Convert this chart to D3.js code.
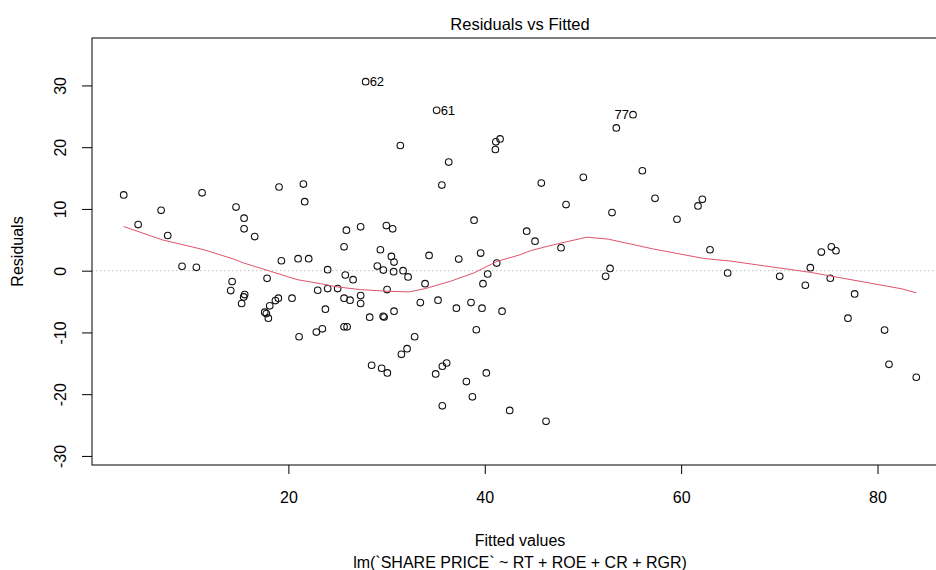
<!DOCTYPE html>
<html>
<head>
<meta charset="utf-8">
<script src="https://cdn.jsdelivr.net/npm/d3@7"></script>
<style>
  body { margin: 0; background: #fff; }
  svg { display: block; font-family: "Liberation Sans", Arial, sans-serif; }
</style>
</head>
<body>
<script>
// fitted values and residuals
let fitted = [3.23, 4.70, 7.04, 7.71, 11.21, 14.67, 15.49, 15.49, 16.57, 19.05, 21.53, 21.66,
    9.17, 10.63, 19.29, 20.99, 22.07, 14.27, 14.13, 17.83, 15.55, 15.45, 15.24, 18.98,
    18.68, 18.10, 17.59, 17.76, 17.96, 20.37, 22.99, 21.09, 22.85, 27.87, 35.10, 31.40,
    36.33, 35.63, 41.13, 41.56, 41.08, 25.91, 27.36, 29.98, 30.62, 38.91, 25.67, 29.37,
    30.49, 34.33, 37.35, 39.58, 44.27, 30.76, 24.00, 25.80, 26.59, 29.06, 29.67, 30.72,
    31.68, 32.19, 33.92, 40.30, 41.22, 39.82, 24.00, 25.02, 25.67, 26.28, 27.36, 27.36,
    30.05, 23.77, 23.46, 25.67, 25.98, 28.28, 29.65, 29.75, 30.76, 33.44, 35.24, 37.11,
    38.60, 39.72, 41.76, 39.14, 32.86, 32.09, 31.51, 28.48, 29.50, 30.08, 35.00, 35.68,
    36.12, 40.16, 38.13, 38.74, 35.68, 42.54, 55.10, 53.40, 56.05, 50.04, 45.76, 57.34,
    48.28, 52.96, 62.16, 61.72, 59.58, 45.12, 47.77, 62.94, 52.76, 52.31, 64.74, 74.28,
    75.30, 75.77, 73.16, 70.04, 75.19, 72.65, 77.67, 76.99, 80.72, 81.17, 83.95, 46.24];

let residuals = [12.26, 7.47, 9.78, 5.70, 12.60, 10.30, 8.50, 6.77, 5.53, 13.55, 14.03, 11.18,
    0.70, 0.54, 1.61, 1.94, 1.94, -1.77, -3.23, -1.24, -3.87, -4.25, -5.32, -4.46,
    -4.84, -5.70, -6.72, -6.94, -7.69, -4.46, -3.17, -10.70, -9.95, 30.60, 25.97, 20.27,
    17.58, 13.87, 20.86, 21.34, 19.62, 6.56, 7.10, 7.31, 6.77, 8.17, 3.87, 3.39,
    2.31, 2.47, 1.88, 2.85, 6.40, 1.40, 0.16, -0.70, -1.45, 0.75, 0.10, -0.16,
    0.00, -1.02, -2.10, -0.54, 1.23, -2.10, -2.90, -2.90, -4.46, -4.78, -4.03, -5.32,
    -3.06, -6.23, -9.41, -9.09, -9.09, -7.53, -7.40, -7.50, -6.56, -5.16, -4.78, -6.08,
    -5.16, -6.08, -6.56, -9.57, -10.70, -12.63, -13.55, -15.32, -15.80, -16.56, -16.72, -15.48,
    -14.95, -16.56, -17.96, -20.43, -21.88, -22.63, 25.27, 23.12, 16.18, 15.11, 14.19, 11.72,
    10.70, 9.41, 11.56, 10.48, 8.33, 4.78, 3.71, 3.39, 0.37, -0.91, -0.38, 3.01,
    3.87, 3.23, 0.48, -0.91, -1.23, -2.36, -3.77, -7.69, -9.62, -15.16, -17.26, -24.40];

// observation numbers shown next to the three largest residuals
let labelIds = ['62', '61', '77'];
let labelFitted = [27.87, 35.10, 55.10];
let labelResid = [30.60, 25.97, 25.27];

// red smoother
let smoothX = [3.23, 7.14, 11.4, 14.43, 15.45, 18.17, 20.89, 23.26, 24.96, 27.33, 30.05, 32.25,
    33.95, 36.5, 38.87, 41.25, 43.6, 44.64, 47.0, 50.4, 52.6, 57.2, 62.3, 65.0, 73.16, 82.5, 83.95];
let smoothY = [7.15, 5.0, 3.39, 1.88, 1.24, -0.1, -1.45, -2.1, -2.63, -3.06, -3.33, -3.44,
    -2.9, -1.72, -0.38, 1.5, 2.58, 3.23, 4.19, 5.43, 5.1, 3.5, 1.98, 1.56, -0.27, -2.95, -3.6];

let xTicks = [20, 40, 60, 80];
let yTicks = [-30, -20, -10, 0, 10, 20, 30];

let w = 936, h = 570;
let padL = 92, padR = 948, padT = 38, padB = 465;
let lineH = 21.5;

let svg = d3.select('body')
    .append('svg')
    .attr('width', w)
    .attr('height', h);

let x = d3.scaleLinear()
    .domain([0.0, 87.18])
    .range([padL, padR]);

let y = d3.scaleLinear()
    .domain([-31.47, 37.68])
    .range([padB, padT]);

// zero reference line
svg.append('line')
    .attr('x1', padL).attr('x2', padR)
    .attr('y1', y(0)).attr('y2', y(0))
    .attr('stroke', '#bebebe')
    .attr('stroke-dasharray', '1.5,2.5');

// points
svg.selectAll('circle.pt')
    .data(fitted)
    .enter()
    .append('circle')
    .attr('class', 'pt')
    .attr('cx', d => x(d))
    .attr('cy', (d, i) => y(residuals[i]))
    .attr('r', 3.3)
    .attr('fill', 'none')
    .attr('stroke', '#111')
    .attr('stroke-width', 1.1);

// smoother
let line = d3.line()
    .x(d => x(d[0]))
    .y(d => y(d[1]));

svg.append('path')
    .datum(smoothX.map((d, i) => [d, smoothY[i]]))
    .attr('d', line)
    .attr('fill', 'none')
    .attr('stroke', '#DF536B')
    .attr('stroke-width', 1);

// id labels, right of the point on the left half, left of it on the right half
let mid = (x.domain()[0] + x.domain()[1]) / 2;
svg.selectAll('text.id')
    .data(labelIds)
    .enter()
    .append('text')
    .attr('class', 'id')
    .text(d => d)
    .attr('x', (d, i) => labelFitted[i] < mid ? x(labelFitted[i]) + 4 : x(labelFitted[i]) - 4)
    .attr('y', (d, i) => y(labelResid[i]))
    .attr('dy', '0.36em')
    .style('text-anchor', (d, i) => labelFitted[i] < mid ? 'start' : 'end')
    .style('font-size', '13px')
    .attr('fill', '#000');

// box
svg.append('rect')
    .attr('x', padL).attr('y', padT)
    .attr('width', padR - padL).attr('height', padB - padT)
    .attr('fill', 'none')
    .attr('stroke', '#000')
    .attr('stroke-width', 1);

// axes (plain hyphen for negatives, as R prints them)
let xAxis = svg.append('g')
    .attr('transform', `translate(0,${padB})`)
    .call(d3.axisBottom(x).tickValues(xTicks).tickSize(9).tickSizeOuter(0).tickFormat(d => String(d)));
xAxis.select('.domain').remove();
xAxis.selectAll('text')
    .attr('y', lineH * 1.5)
    .attr('dy', '0.36em')
    .style('font-size', '16px')
    .style('font-family', '"Liberation Sans", Arial, sans-serif')
    .attr('fill', '#000');

let yAxis = svg.append('g')
    .attr('transform', `translate(${padL},0)`)
    .call(d3.axisLeft(y).tickValues(yTicks).tickSize(10).tickSizeOuter(0).tickFormat(d => String(d)));
yAxis.select('.domain').remove();
yAxis.selectAll('text')
    .attr('x', 0)
    .attr('transform', `translate(${-lineH * 1.5},0) rotate(-90)`)
    .attr('dy', '0.36em')
    .style('text-anchor', 'middle')
    .style('font-size', '16px')
    .style('font-family', '"Liberation Sans", Arial, sans-serif')
    .attr('fill', '#000');

// titles
svg.append('text')
    .text('Residuals vs Fitted')
    .attr('x', (padL + padR) / 2)
    .attr('y', 30)
    .style('text-anchor', 'middle')
    .style('font-size', '16.5px');

svg.append('text')
    .text('Fitted values')
    .attr('x', (padL + padR) / 2)
    .attr('y', padB + lineH * 3.5)
    .attr('dy', '0.36em')
    .style('text-anchor', 'middle')
    .style('font-size', '16px');

svg.append('text')
    .text('lm(`SHARE PRICE` ~ RT + ROE + CR + RGR)')
    .attr('x', (padL + padR) / 2)
    .attr('y', padB + lineH * 4.5)
    .attr('dy', '0.36em')
    .style('text-anchor', 'middle')
    .style('font-size', '16px');

svg.append('text')
    .text('Residuals')
    .attr('transform', `translate(${padL - lineH * 3.5},${(padT + padB) / 2}) rotate(-90)`)
    .attr('dy', '0.36em')
    .style('text-anchor', 'middle')
    .style('font-size', '16px');
</script>
</body>
</html>
